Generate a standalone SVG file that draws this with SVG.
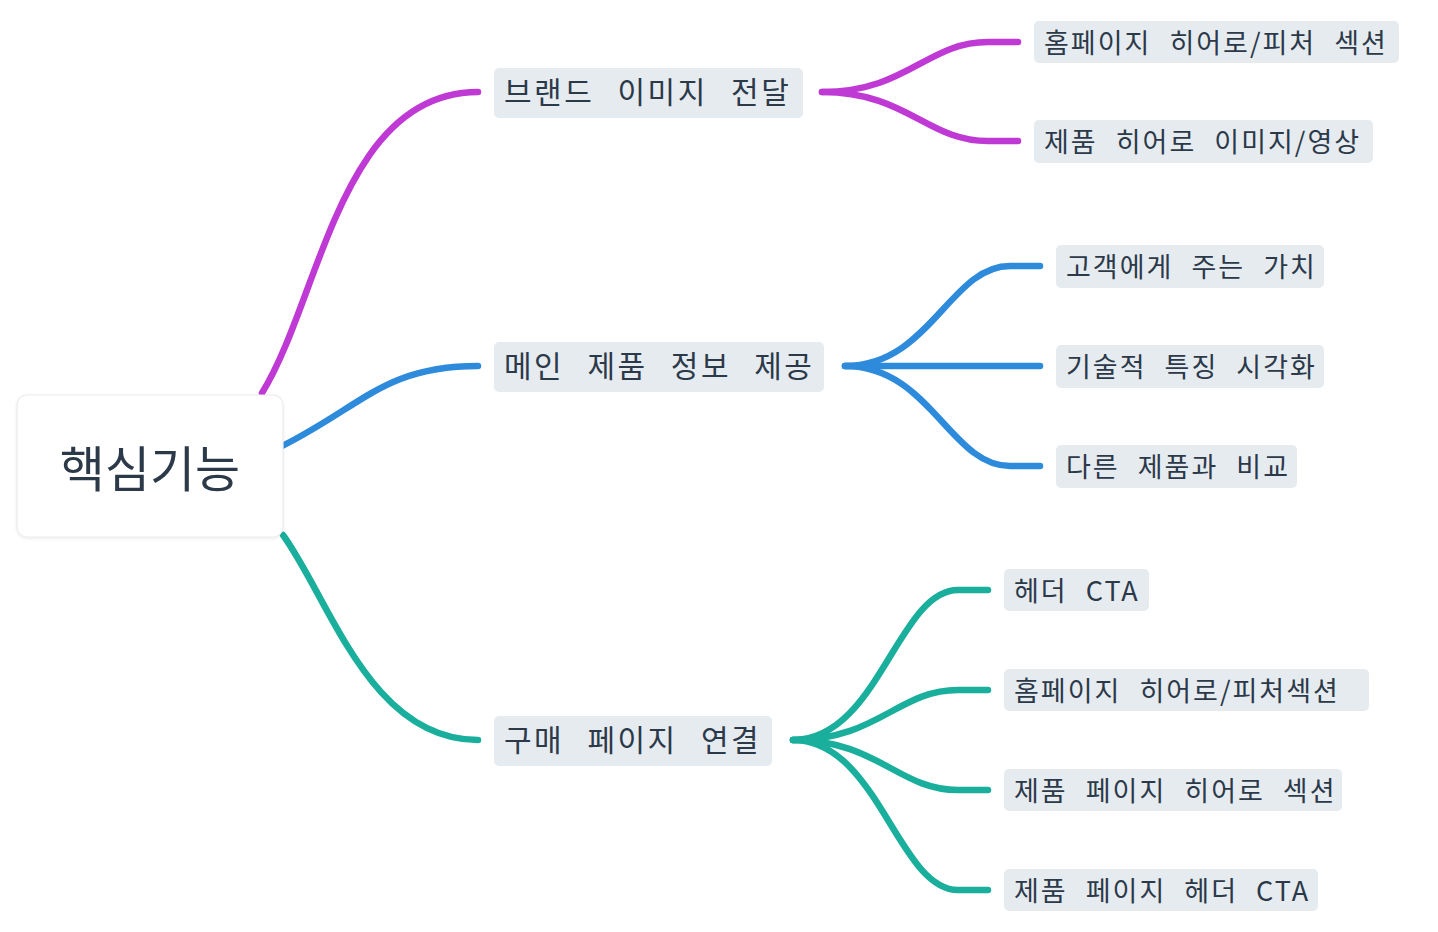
<svg xmlns="http://www.w3.org/2000/svg" width="1438" height="932" viewBox="0 0 1438 932">
<style>
text{font-family:"Noto Sans CJK KR","Noto Sans",sans-serif;fill:#2b3949;dominant-baseline:central;}
.l1 rect{fill:#e6ebf0;}
.l1 text{font-size:30px;letter-spacing:2.5px;word-spacing:14px;}
.l2 rect{fill:#e6ebf0;}
.l2 text{font-size:27px;letter-spacing:2px;word-spacing:10px;}
.c{fill:none;stroke-width:6.5;stroke-linecap:round;}
.m{stroke:#bf3ad4;}
.b{stroke:#2e8bdc;}
.t{stroke:#1aae9c;}
</style>
<defs>
<filter id="sh" x="-10%" y="-10%" width="120%" height="130%">
<feDropShadow dx="0" dy="1" stdDeviation="1.5" flood-color="#000" flood-opacity="0.08"/>
</filter>
</defs>
<rect width="1438" height="932" fill="#ffffff"/>
<g id="connectors">
<path class="c m" d="M262 393 C320 300 340 92 478 92"/>
<path class="c b" d="M270 452 C360 410 380 366 478 366"/>
<path class="c t" d="M283 535 C330 600 370 740 478 740"/>
<path class="c m" d="M822 92 C907 92 927 42 988 42 L1018 42"/>
<path class="c m" d="M822 92 C907 92 927 141 988 141 L1018 141"/>
<path class="c b" d="M845 366 C930 366 950 266 1010 266 L1040 266"/>
<path class="c b" d="M845 366 L1040 366"/>
<path class="c b" d="M845 366 C930 366 950 466 1010 466 L1040 466"/>
<path class="c t" d="M793 740 C878 740 898 590 958 590 L988 590"/>
<path class="c t" d="M793 740 C878 740 898 690 958 690 L988 690"/>
<path class="c t" d="M793 740 C878 740 898 790 958 790 L988 790"/>
<path class="c t" d="M793 740 C878 740 898 890 958 890 L988 890"/>
</g>
<g id="root">
<rect x="17" y="395" width="266" height="142" rx="10" fill="#ffffff" stroke="#ececec" stroke-width="1.2" filter="url(#sh)"/>
<text x="150" y="465" text-anchor="middle" font-size="49">핵심기능</text>
</g>
<g id="n1" class="l1"><rect x="494" y="68" width="309" height="50" rx="5"/><text x="504" y="90">브랜드 이미지 전달</text></g>
<g id="n2" class="l1"><rect x="494" y="342" width="330" height="50" rx="5"/><text x="504" y="364">메인 제품 정보 제공</text></g>
<g id="n3" class="l1"><rect x="494" y="716" width="278" height="50" rx="5"/><text x="504" y="738">구매 페이지 연결</text></g>
<g id="n11" class="l2"><rect x="1034" y="21" width="365" height="42" rx="5"/><text x="1044" y="41">홈페이지 히어로/피처 섹션</text></g>
<g id="n12" class="l2"><rect x="1034" y="120" width="339" height="43" rx="5"/><text x="1044" y="140">제품 히어로 이미지/영상</text></g>
<g id="n21" class="l2"><rect x="1056" y="245" width="268" height="43" rx="5"/><text x="1066" y="265">고객에게 주는 가치</text></g>
<g id="n22" class="l2"><rect x="1056" y="345" width="268" height="43" rx="5"/><text x="1066" y="365">기술적 특징 시각화</text></g>
<g id="n23" class="l2"><rect x="1056" y="445" width="241" height="43" rx="5"/><text x="1066" y="465">다른 제품과 비교</text></g>
<g id="n31" class="l2"><rect x="1004" y="569" width="145" height="42" rx="5"/><text x="1014" y="589">헤더 CTA</text></g>
<g id="n32" class="l2"><rect x="1004" y="669" width="365" height="42" rx="5"/><text x="1014" y="689">홈페이지 히어로/피처섹션</text></g>
<g id="n33" class="l2"><rect x="1004" y="769" width="338" height="42" rx="5"/><text x="1014" y="789">제품 페이지 히어로 섹션</text></g>
<g id="n34" class="l2"><rect x="1004" y="869" width="314" height="42" rx="5"/><text x="1014" y="889">제품 페이지 헤더 CTA</text></g>
</svg>
